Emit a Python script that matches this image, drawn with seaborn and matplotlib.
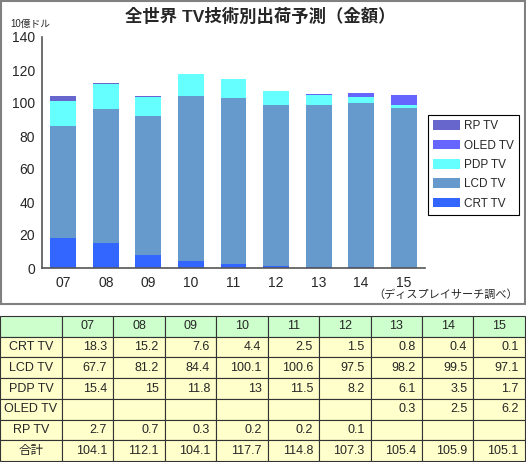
import numpy as np
import pandas as pd
import matplotlib
matplotlib.use("Agg")
import matplotlib.pyplot as plt
import matplotlib.patches as mpatches
import seaborn as sns

# data (billion USD)
years = ["07", "08", "09", "10", "11", "12", "13", "14", "15"]
crt = [18.3, 15.2, 7.6, 4.4, 2.5, 1.5, 0.8, 0.4, 0.1]
lcd = [67.7, 81.2, 84.4, 100.1, 100.6, 97.5, 98.2, 99.5, 97.1]
pdp = [15.4, 15, 11.8, 13, 11.5, 8.2, 6.1, 3.5, 1.7]
oled = [None, None, None, None, None, None, 0.3, 2.5, 6.2]
rp = [2.7, 0.7, 0.3, 0.2, 0.2, 0.1, None, None, None]
totals = [104.1, 112.1, 104.1, 117.7, 114.8, 107.3, 105.4, 105.9, 105.1]

series_names = ["CRT TV", "LCD TV", "PDP TV", "OLED TV", "RP TV"]
series_vals = [crt, lcd, pdp, oled, rp]
colors = ["#3366FF", "#6699CC", "#66FFFF", "#6666FF", "#6666CC"]

sns.set_style("white")
plt.rcParams["font.family"] = ["Liberation Sans", "Noto Sans CJK JP"]

fig = plt.figure(figsize=(5.26, 4.62), dpi=100)

# chart frame
fig.patches.append(mpatches.Rectangle((0.001, 1 - 304 / 462), 0.997, 304 / 462 - 0.002,
                                      transform=fig.transFigure, fill=False,
                                      edgecolor="#808080", linewidth=1.5))

ax = fig.add_axes([42 / 526, 1 - 268 / 462, (425 - 42) / 526, (268 - 37) / 462])

# stacked bars: draw cumulative totals from the top series down
df = pd.DataFrame({n: [0 if v is None else v for v in vals]
                   for n, vals in zip(series_names, series_vals)}, index=years)
cum = df.cumsum(axis=1)
for name, col in reversed(list(zip(series_names, colors))):
    sns.barplot(x=years, y=cum[name].values, order=years, color=col,
                saturation=1, width=0.61, errorbar=None, label=name, ax=ax,
                linewidth=0)

ax.set_ylim(0, 140)
ax.set_yticks(range(0, 141, 20))
ax.set_xlabel("")
ax.set_ylabel("")
for s in ["top", "right"]:
    ax.spines[s].set_visible(False)
for s in ["left", "bottom"]:
    ax.spines[s].set_color("#555555")
    ax.spines[s].set_linewidth(1.2)
ax.tick_params(axis="y", direction="in", length=3, pad=5, labelsize=10, color="#555555")
ax.tick_params(axis="x", length=0, pad=6, labelsize=10)

handles, labels = ax.get_legend_handles_labels()
if ax.get_legend() is not None:
    ax.get_legend().remove()
leg = fig.legend(handles, labels, loc="upper left",
                 bbox_to_anchor=(428 / 526, 1 - 115 / 462), borderaxespad=0,
                 fontsize=8.5, fancybox=False, edgecolor="black", framealpha=1,
                 handlelength=2.3, handleheight=0.9, labelspacing=0.62,
                 borderpad=0.45, handletextpad=0.3)
leg.get_frame().set_linewidth(0.8)

fig.text(0.494, 1 - 16 / 462, "全世界 TV技術別出荷予測（金額）", ha="center", va="center",
         fontsize=12.5, fontweight="bold")
fig.text(10 / 526, 1 - 24 / 462, "10億ドル", ha="left", va="center", fontsize=7)
fig.text(518 / 526, 1 - 295 / 462, "（ディスプレイサーチ調べ）", ha="right", va="center",
         fontsize=8)

# data table
tab_ax = fig.add_axes([0, 0.002, 0.998, (462 - 316) / 462 - 0.002])
tab_ax.axis("off")

def fmt(v):
    return "" if v is None else f"{v:g}"

cells = [[""] + years]
for name, vals in zip(series_names, series_vals):
    cells.append([name] + [fmt(v) for v in vals])
cells.append(["合計"] + [fmt(v) for v in totals])

first_w = 62 / 526
col_w = [first_w] + [(1 - first_w) / 9] * 9
table = tab_ax.table(cellText=cells, cellLoc="right", colWidths=col_w,
                     bbox=[0, 0, 1, 1])
table.auto_set_font_size(False)
table.set_fontsize(9)
for (r, c), cell in table.get_celld().items():
    cell.set_edgecolor("#333333")
    cell.set_linewidth(0.8)
    cell.set_facecolor("#CCFFCC" if r == 0 else "#FFFFCC")
    cell.PAD = 0.12
    if r == 0 or c == 0:
        cell.get_text().set_horizontalalignment("center")

fig.savefig("out.png", dpi=100)
